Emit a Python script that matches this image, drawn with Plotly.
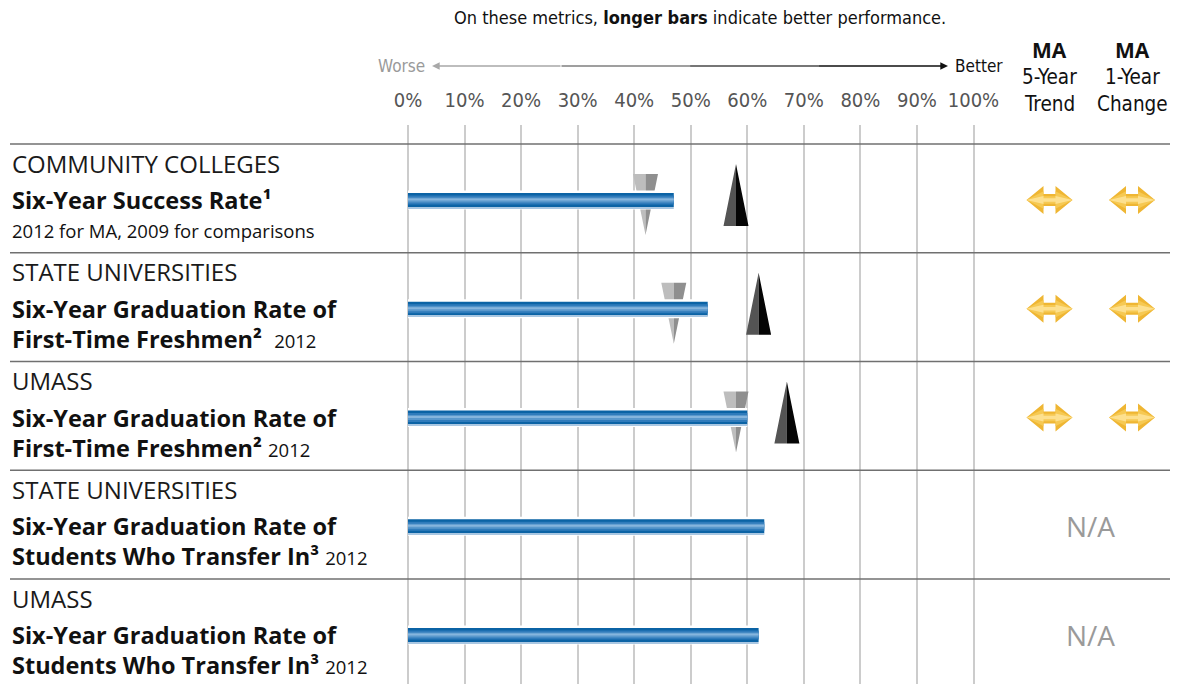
import plotly.graph_objects as go

# ---------------- data ----------------
rows = [0, 1, 2, 3, 4]
segments = ["COMMUNITY COLLEGES", "STATE UNIVERSITIES", "UMASS",
            "STATE UNIVERSITIES", "UMASS"]
metric_line1 = ["Six-Year Success Rate¹",
                "Six-Year Graduation Rate of",
                "Six-Year Graduation Rate of",
                "Six-Year Graduation Rate of",
                "Six-Year Graduation Rate of"]
metric_line2 = ["", "First-Time Freshmen²", "First-Time Freshmen²",
                "Students Who Transfer In³", "Students Who Transfer In³"]
year_notes = ["2012 for MA, 2009 for comparisons", "2012", "2012", "2012", "2012"]
note_gaps = ["", "  ", " ", " ", " "]
ma_values = [47, 53, 60, 63, 62]            # blue bars (MA)
gray_marker = [42, 47, 58, None, None]      # grey inverted triangle
black_marker = [58, 62, 67, None, None]     # black triangle
trend_5yr = ["flat", "flat", "flat", "N/A", "N/A"]
change_1yr = ["flat", "flat", "flat", "N/A", "N/A"]
tick_vals = [0, 10, 20, 30, 40, 50, 60, 70, 80, 90, 100]
tick_text = ["0%", "10%", "20%", "30%", "40%", "50%", "60%", "70%", "80%", "90%", "100%"]
col_labels = [["MA", "5-Year", "Trend"], ["MA", "1-Year", "Change"]]

# ---------------- geometry / style ----------------
W, H = 1177, 684
PX_X0, PX_X100 = 408, 973.5           # pixel of 0% and 100%
PLOT_TOP = 125
ROW_PX = 108.75                        # pixels per row
ROW0_PX = 200                          # centre of first row
y_top = -(ROW0_PX - PLOT_TOP) / ROW_PX
y_bot = 4 + (H - (ROW0_PX + 4 * ROW_PX)) / ROW_PX
XU = (PX_X100 - PX_X0) / 100.0         # pixels per percent
X_PAD = 0.4                            # small pad so the 100% gridline is drawn
COLU = 82.5                            # pixels per right-column unit
col_dom = [(1049.5 - COLU * 0.5) / W, (1132 + COLU * 0.5) / W]

def yu(px):
    return px / ROW_PX

def py(px):
    return 1 - px / H

COND = "Liberation Sans Narrow, Arial Narrow, DejaVu Sans Condensed, sans-serif"
SANS = "Open Sans, Noto Sans, sans-serif"

fig = go.Figure()

# grey inverted triangles (below the bars, base subplot)
hw = 12.5 / XU
gl_x, gl_y, gr_x, gr_y = [], [], [], []
for r, v in zip(rows, gray_marker):
    if v is None:
        continue
    top, tip = r - yu(26), r + yu(35)
    gl_x += [v - hw, v, v, v - hw, None]
    gl_y += [top, top, tip, top, None]
    gr_x += [v, v + hw, v, v, None]
    gr_y += [top, top, tip, top, None]
fig.add_trace(go.Scatter(x=gl_x, y=gl_y, fill="toself", fillcolor="#bdbdbd",
                         mode="lines", line=dict(width=0), hoverinfo="skip",
                         xaxis="x", yaxis="y", showlegend=False))
fig.add_trace(go.Scatter(x=gr_x, y=gr_y, fill="toself", fillcolor="#8f8f8f",
                         mode="lines", line=dict(width=0), hoverinfo="skip",
                         xaxis="x", yaxis="y", showlegend=False))

# bars (overlay subplot so they sit above the grey triangles)
bar_layers = [
    ("#ffffff", 19, 0),
    ("#0b63a5", 14, 0),
    ("#2f7bbb", 9, 0),
    ("#5a98cc", 5, 0),
    ("#86b5dd", 2, -1.5),
    ("#a9c7e2", 1.3, 7.0),
]
for col, wpx, offpx in bar_layers:
    kw = {}
    if offpx:
        kw["offset"] = yu(offpx)
    fig.add_trace(go.Bar(x=ma_values, y=rows, orientation="h",
                         width=yu(wpx), marker=dict(color=col, line=dict(width=0)),
                         xaxis="x3", yaxis="y2", hoverinfo="skip",
                         showlegend=False, **kw))

# black triangles
bl_x, bl_y, br_x, br_y = [], [], [], []
for r, v in zip(rows, black_marker):
    if v is None:
        continue
    base, apex = r + yu(26), r - yu(36)
    bl_x += [v - hw, v, v, v - hw, None]
    bl_y += [base, base, apex, base, None]
    br_x += [v, v + hw, v, v, None]
    br_y += [base, base, apex, base, None]
fig.add_trace(go.Scatter(x=bl_x, y=bl_y, fill="toself", fillcolor="#545454",
                         mode="lines", line=dict(width=0), hoverinfo="skip",
                         xaxis="x3", yaxis="y2", showlegend=False))
fig.add_trace(go.Scatter(x=br_x, y=br_y, fill="toself", fillcolor="#050505",
                         mode="lines", line=dict(width=0), hoverinfo="skip",
                         xaxis="x3", yaxis="y2", showlegend=False))

# double arrows in the MA columns
def double_arrow(cx, cy, scale_y):
    aw, ah, hh, sh = 23, 17, 14 * scale_y, 6 * scale_y
    pts = [(-aw, 0), (-aw + ah, -hh), (-aw + ah, -sh), (aw - ah, -sh), (aw - ah, -hh),
           (aw, 0), (aw - ah, hh), (aw - ah, sh), (-aw + ah, sh), (-aw + ah, hh), (-aw, 0)]
    xs = [cx + p[0] / COLU for p in pts]
    ys = [cy + yu(p[1]) for p in pts]
    return xs, ys

for scale, colr in [(1.0, "#efb633"), (0.62, "#f6c953"), (0.28, "#fde08e")]:
    ax_, ay_ = [], []
    for ci, series in enumerate([trend_5yr, change_1yr]):
        for r, t in zip(rows, series):
            if t == "flat":
                xs, ys = double_arrow(ci, r, scale)
                ax_ += xs + [None]
                ay_ += ys + [None]
    fig.add_trace(go.Scatter(x=ax_, y=ay_, fill="toself", fillcolor=colr,
                             mode="lines", line=dict(width=0), hoverinfo="skip",
                             xaxis="x2", yaxis="y", showlegend=False))

annotations = []
# N/A labels
for r, t in zip(rows, trend_5yr):
    if t == "N/A":
        annotations.append(dict(x=0.5, y=r, xref="x2", yref="y", text="N/A",
                                showarrow=False, font=dict(family=SANS, size=28, color="#9a9a9a")))

# left labels
for r in rows:
    annotations.append(dict(x=10 / W, y=r - yu(37), xref="paper", yref="y",
                            xanchor="left", yanchor="middle", showarrow=False,
                            text=segments[r],
                            font=dict(family=SANS, size=24, color="#1a1a1a")))
    if metric_line2[r]:
        annotations.append(dict(x=10 / W, y=r, xref="paper", yref="y",
                                xanchor="left", yanchor="middle", showarrow=False,
                                text="<b>" + metric_line1[r] + "</b>",
                                font=dict(family=SANS, size=23.5, color="#111111")))
        annotations.append(dict(x=10 / W, y=r + yu(30), xref="paper", yref="y",
                                xanchor="left", yanchor="middle", showarrow=False,
                                text="<b>" + metric_line2[r] + "</b>" + note_gaps[r]
                                     + "<span style='font-size:18.5px'>" + year_notes[r] + "</span>",
                                font=dict(family=SANS, size=23.5, color="#111111")))
    else:
        annotations.append(dict(x=10 / W, y=r, xref="paper", yref="y",
                                xanchor="left", yanchor="middle", showarrow=False,
                                text="<b>" + metric_line1[r] + "</b>",
                                font=dict(family=SANS, size=23.5, color="#111111")))
        annotations.append(dict(x=10 / W, y=r + yu(30), xref="paper", yref="y",
                                xanchor="left", yanchor="middle", showarrow=False,
                                text=year_notes[r],
                                font=dict(family=SANS, size=18.5, color="#111111")))

# column headers
for ci, labs in enumerate(col_labels):
    for li, (lab, ypx) in enumerate(zip(labs, [50, 77, 104])):
        annotations.append(dict(x=ci, y=py(ypx), xref="x2", yref="paper",
                                showarrow=False, yanchor="middle",
                                text=("<b>" + lab + "</b>") if li == 0 else lab,
                                font=dict(family=COND if li else SANS,
                                          size=20.5 if li else 21, color="#111111")))

# title
annotations.append(dict(x=700 / W, y=py(18), xref="paper", yref="paper",
                        showarrow=False, yanchor="middle",
                        text="On these metrics, <b>longer bars</b> indicate better performance.",
                        font=dict(family=COND, size=18, color="#111111")))
# worse / better
annotations.append(dict(x=427 / W, y=py(66), xref="paper", yref="paper", xanchor="right",
                        showarrow=False, yanchor="middle", text="Worse",
                        font=dict(family=COND, size=17, color="#9a9a9a")))
annotations.append(dict(x=953 / W, y=py(66), xref="paper", yref="paper", xanchor="left",
                        showarrow=False, yanchor="middle", text="Better",
                        font=dict(family=COND, size=17, color="#111111")))
seg_cols = ["#a8a8a8", "#808080", "#4a4a4a", "#111111"]
x_a, x_b = 432, 948
step = (x_b - x_a) / 4
for i, c in enumerate(seg_cols):
    s, e = x_a + i * step - 1, x_a + (i + 1) * step + 1
    if i == 0:
        head, tail = x_a, e
        hstyle = 2
    else:
        head, tail = (x_b if i == 3 else e), s
        hstyle = 2 if i == 3 else 0
    annotations.append(dict(x=head / W, y=py(66), xref="paper", yref="paper",
                            ax=tail - head, ay=0,
                            text="", showarrow=True, arrowhead=hstyle, arrowsize=1.1,
                            arrowwidth=1.4, arrowcolor=c, standoff=0, startstandoff=0))

# row separators
shapes = []
for r in rows:
    shapes.append(dict(type="line", xref="paper", yref="y", x0=10 / W, x1=1170 / W,
                       y0=r - yu(56), y1=r - yu(56), line=dict(color="#707070", width=1.5)))

y_dom = [0, 1 - PLOT_TOP / H]
x_dom = [PX_X0 / W, (PX_X100 + X_PAD * XU) / W]
x_rng = [0, 100 + X_PAD]
fig.update_layout(
    width=W, height=H, margin=dict(l=0, r=0, t=0, b=0, autoexpand=False),
    paper_bgcolor="white", plot_bgcolor="rgba(0,0,0,0)",
    barmode="overlay", hovermode=False, showlegend=False,
    annotations=annotations, shapes=shapes,
    xaxis=dict(domain=x_dom, range=x_rng, side="top", tickvals=tick_vals,
               ticktext=tick_text, showgrid=True, gridcolor="#cccccc", gridwidth=2,
               zeroline=True, zerolinecolor="#cccccc", zerolinewidth=2,
               showline=False, ticks="outside", ticklen=9, tickcolor="rgba(0,0,0,0)",
               tickfont=dict(family=COND, size=20, color="#555555"), anchor="y",
               automargin=False, fixedrange=True),
    yaxis=dict(domain=y_dom, range=[y_bot, y_top], showgrid=False, zeroline=False,
               showticklabels=False, showline=False, anchor="x", fixedrange=True),
    xaxis2=dict(domain=col_dom, range=[-0.5, 1.5], showgrid=False, zeroline=False,
                showticklabels=False, showline=False, anchor="y", fixedrange=True),
    xaxis3=dict(domain=x_dom, range=x_rng, overlaying="x", anchor="y2",
                visible=False, fixedrange=True),
    yaxis2=dict(domain=y_dom, range=[y_bot, y_top], overlaying="y", anchor="x3",
                visible=False, fixedrange=True),
)

fig.write_html("out.html", config={"displayModeBar": False, "responsive": False},
               post_script="document.body.style.margin='0';"
                           "document.body.style.overflow='hidden';")
